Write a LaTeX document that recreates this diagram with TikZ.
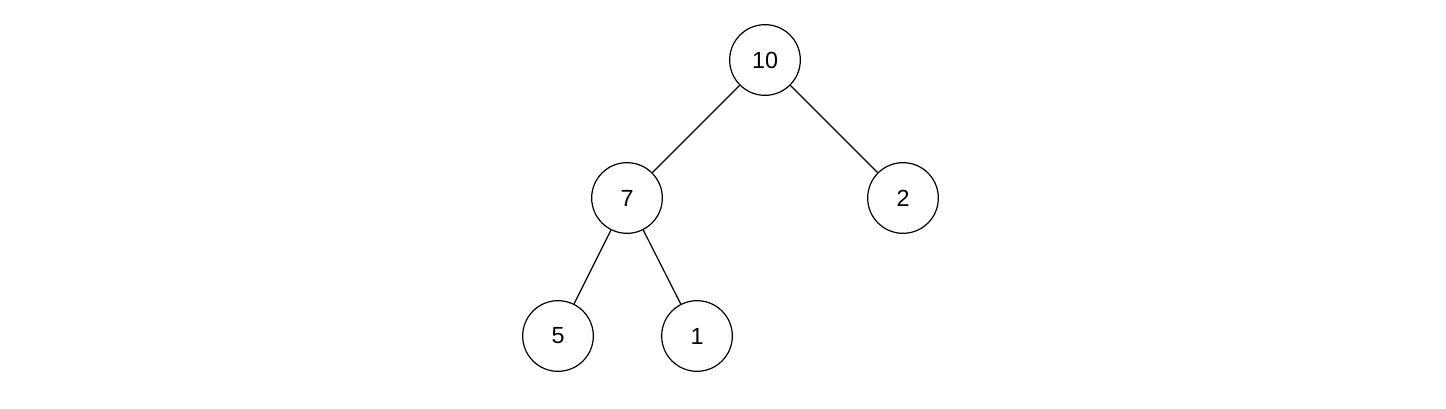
\documentclass[tikz,border=0pt]{standalone}
\usepackage{fontspec}
\setmainfont{Liberation Sans}
\begin{document}
\begin{tikzpicture}[x=0.75pt,y=-0.75pt,
  treenode/.style={circle,draw=black,line width=0.9pt,minimum size=53pt,inner sep=0pt,font=\fontsize{17.5}{20}\selectfont},
  edge/.style={draw=black,line width=0.9pt}]
\useasboundingbox (0,0) rectangle (1446,409);
\node[treenode] (n10) at (765,60) {10};
\node[treenode] (n7) at (627,198) {7};
\node[treenode] (n2) at (903,198) {2};
\node[treenode] (n5) at (558,336) {5};
\node[treenode] (n1) at (697,336) {1};
\draw[edge] (n10) -- (n7);
\draw[edge] (n10) -- (n2);
\draw[edge] (n7) -- (n5);
\draw[edge] (n7) -- (n1);
\end{tikzpicture}
\end{document}
